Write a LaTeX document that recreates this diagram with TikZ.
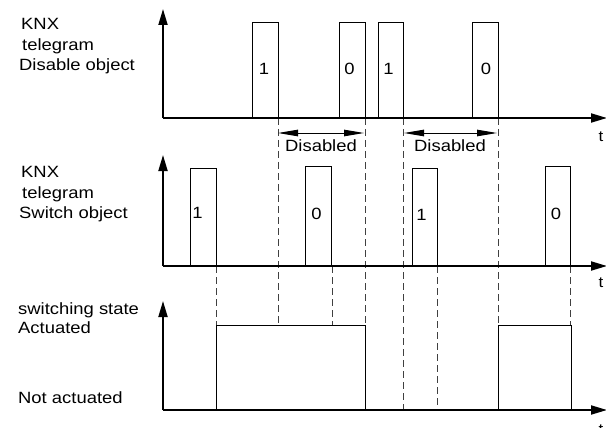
\documentclass[tikz,border=0pt]{standalone}
\usepackage{fontspec}
\setmainfont{Liberation Sans}[FakeStretch=1.13]
\usetikzlibrary{arrows.meta}
\tikzset{
  axis/.style={line width=1.9pt, -{Triangle[length=16pt,width=9pt]}},
  pulse/.style={line width=0.9pt},
  guide/.style={line width=0.9pt, black!75, dash pattern=on 7pt off 4pt},
  span/.style={line width=0.9pt, {Triangle[length=20pt,width=6.5pt]}-{Triangle[length=20pt,width=6.5pt]}},
  lbl/.style={anchor=base west, inner sep=0pt, font=\fontsize{16.3}{19}\selectfont},
  dig/.style={anchor=base, inner sep=0pt, font=\fontsize{16.3}{19}\selectfont},
  tl/.style={anchor=base, inner sep=0pt, font=\fontsize{15}{18}\selectfont}
}
\begin{document}
\begin{tikzpicture}[x=1pt,y=-1pt]
\useasboundingbox (0,0) rectangle (606,428);
% ---- coordinates of axes
\coordinate (o1) at (163,118);
\coordinate (o2) at (163,266);
\coordinate (o3) at (163,410);
\coordinate (y1) at (163,9);
\coordinate (y2) at (163,155);
\coordinate (y3) at (163,301);
\coordinate (x1) at (607,118);
\coordinate (x2) at (607,266);
\coordinate (x3) at (607,410);

% ---- dashed guide lines
\draw[guide] (278,118) -- (278,325);
\draw[guide] (365,118) -- (365,325);
\draw[guide] (403,118) -- (403,410);
\draw[guide] (498,118) -- (498,325);
\draw[guide] (216,266) -- (216,325);
\draw[guide] (332,266) -- (332,325);
\draw[guide] (437,266) -- (437,410);
\draw[guide] (570,266) -- (570,325);

% ---- top: disable object pulses
\draw[pulse] (252,118) -- (252,22) -- (278,22) -- (278,118);
\draw[pulse] (339,118) -- (339,22) -- (365,22) -- (365,118);
\draw[pulse] (378,118) -- (378,22) -- (403,22) -- (403,118);
\draw[pulse] (472,118) -- (472,22) -- (498,22) -- (498,118);
\node[dig] (d1) at (264,75) {1};
\node[dig] (d2) at (349.5,75) {0};
\node[dig] (d3) at (388.5,75) {1};
\node[dig] (d4) at (486,75) {0};

% ---- disabled spans
\coordinate (s1a) at (278,133);
\coordinate (s1b) at (364,133);
\coordinate (s2a) at (404,133);
\coordinate (s2b) at (497,133);
\draw[span] (s1a) -- (s1b);
\draw[span] (s2a) -- (s2b);
\node[dig] (dis1) at (321,151.5) {Disabled};
\node[dig] (dis2) at (450,151.5) {Disabled};

% ---- middle: switch object pulses
\draw[pulse] (190,266) -- (190,168) -- (216,168) -- (216,266);
\draw[pulse] (305,266) -- (305,166) -- (331,166) -- (331,266);
\draw[pulse] (412,266) -- (412,168) -- (437,168) -- (437,266);
\draw[pulse] (545,266) -- (545,166) -- (570,166) -- (570,266);
\node[dig] (m1) at (197.5,218) {1};
\node[dig] (m2) at (316.5,219) {0};
\node[dig] (m3) at (421.5,220) {1};
\node[dig] (m4) at (556,219) {0};

% ---- bottom: switching state
\draw[pulse] (216,410) -- (216,325) -- (365,325) -- (365,410);
\draw[pulse] (498,410) -- (498,325) -- (571,325) -- (571,410);

% ---- axes
\draw[axis] (o1) -- (y1);
\draw[axis] (o1) -- (x1);
\draw[axis] (o2) -- (y2);
\draw[axis] (o2) -- (x2);
\draw[axis] (o3) -- (y3);
\draw[axis] (o3) -- (x3);
\node[tl] (t1) at (601,142) {t};
\node[tl] (t2) at (601,287) {t};
\node[tl] (t3) at (601,434) {t};

% ---- left labels
\node[lbl] (a1) at (21,30) {KNX};
\node[lbl] (a2) at (22,51) {telegram};
\node[lbl] (a3) at (19,71) {Disable object};
\node[lbl] (b1) at (21,177) {KNX};
\node[lbl] (b2) at (22,198) {telegram};
\node[lbl] (b3) at (19,218) {Switch object};
\node[lbl] (c1) at (18,314) {switching state};
\node[lbl] (c2) at (18,333) {Actuated};
\node[lbl] (c3) at (18,403) {Not actuated};
\end{tikzpicture}
\end{document}
